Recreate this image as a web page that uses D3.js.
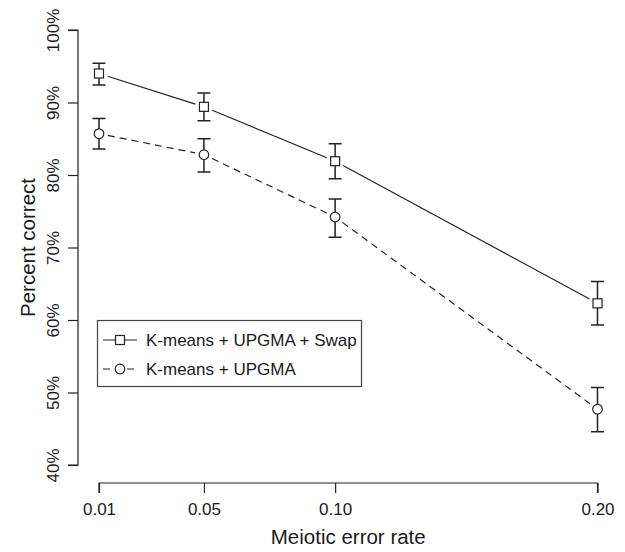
<!DOCTYPE html>
<html><head><meta charset="utf-8">
<script src="https://cdn.jsdelivr.net/npm/d3@7"></script>
<style>body{margin:0;background:#fff}text{font-family:"Liberation Sans",Arial,sans-serif;fill:#1a1a1a}</style>
</head><body><svg id="c" width="625" height="552"></svg>
<script>
const rates = [0.01, 0.05, 0.10, 0.20];
const rateLabels = ["0.01", "0.05", "0.10", "0.20"];
const yTicks = [40, 50, 60, 70, 80, 90, 100];
const swapMean = [94.0, 89.4, 81.9, 62.3];
const swapLow  = [92.4, 87.5, 79.5, 59.3];
const swapHigh = [95.4, 91.3, 84.3, 65.3];
const upMean = [85.7, 82.8, 74.2, 47.7];
const upLow  = [83.6, 80.4, 71.4, 44.6];
const upHigh = [87.8, 85.0, 76.7, 50.7];
const seriesNames = ["K-means + UPGMA + Swap", "K-means + UPGMA"];

const svg = d3.select("#c");
const x = d3.scaleLinear().domain([0.01, 0.20]).range([99, 597.5]);
const y = d3.scaleLinear().domain([40, 100]).range([465, 30]);
const ink = "#222";

// y axis
const ya = svg.append("g").attr("transform","translate(78,0)")
  .call(d3.axisLeft(y).tickValues(yTicks).tickSize(10).tickFormat(d=>d+"%"));
ya.select(".domain").attr("stroke",ink).attr("stroke-width",1.2).attr("d",`M-10,${y(40)}H0V${y(100)}H-10`);
ya.selectAll(".tick line").attr("stroke",ink).attr("stroke-width",1.2);
ya.selectAll(".tick text").attr("transform","rotate(-90)").attr("x",0).attr("y",-19)
  .attr("dy",0).attr("text-anchor","middle").style("font-size","17px");

// x axis
const xa = svg.append("g").attr("transform","translate(0,483)")
  .call(d3.axisBottom(x).tickValues(rates).tickSize(10).tickFormat((d,i)=>rateLabels[i]));
xa.select(".domain").attr("stroke",ink).attr("stroke-width",1.2).attr("d",`M${x(0.01)},10V0H${x(0.20)}V10`);
xa.selectAll(".tick line").attr("stroke",ink).attr("stroke-width",1.2);
xa.selectAll(".tick text").attr("y",32).attr("dy",0).style("font-size","17px");

svg.selectAll("g text").attr("fill","#1a1a1a").attr("font-family",'"Liberation Sans",Arial,sans-serif');

// titles
svg.append("text").attr("x",(x(0.01)+x(0.20))/2).attr("y",544).attr("text-anchor","middle")
  .style("font-size","20.5px").text("Meiotic error rate");
svg.append("text").attr("transform",`translate(35,${(y(40)+y(100))/2}) rotate(-90)`).attr("text-anchor","middle")
  .style("font-size","20.5px").text("Percent correct");

const series = [
  {mean: swapMean, lo: swapLow, hi: swapHigh, dash: null, shape: "square"},
  {mean: upMean, lo: upLow, hi: upHigh, dash: "7,5", shape: "circle"}
];
const gap = 9;
function drawMarker(g, cx, cy, shape){
  if(shape==="square") g.append("rect").attr("x",cx-4.5).attr("y",cy-4.5).attr("width",9).attr("height",9)
    .attr("fill","#fff").attr("stroke",ink).attr("stroke-width",1.2);
  else g.append("circle").attr("cx",cx).attr("cy",cy).attr("r",4.8)
    .attr("fill","#fff").attr("stroke",ink).attr("stroke-width",1.2);
}
series.forEach(s=>{
  const g = svg.append("g");
  for(let i=0;i<rates.length-1;i++){
    const x1=x(rates[i]), y1=y(s.mean[i]), x2=x(rates[i+1]), y2=y(s.mean[i+1]);
    const L=Math.hypot(x2-x1,y2-y1), ux=(x2-x1)/L, uy=(y2-y1)/L;
    g.append("line").attr("x1",x1+ux*gap).attr("y1",y1+uy*gap).attr("x2",x2-ux*gap).attr("y2",y2-uy*gap)
      .attr("stroke",ink).attr("stroke-width",1.2).attr("stroke-dasharray",s.dash);
  }
  rates.forEach((r,i)=>{
    const cx=x(r);
    g.append("path").attr("d",`M${cx},${y(s.lo[i])}V${y(s.hi[i])}M${cx-6.5},${y(s.lo[i])}H${cx+6.5}M${cx-6.5},${y(s.hi[i])}H${cx+6.5}`)
      .attr("stroke",ink).attr("stroke-width",1.5).attr("fill","none");
    drawMarker(g,cx,y(s.mean[i]),s.shape);
  });
});

// legend
const lg = svg.append("g");
lg.append("rect").attr("x",97.5).attr("y",320.5).attr("width",264).attr("height",66)
  .attr("fill","#fff").attr("stroke","#444").attr("stroke-width",1.2);
series.forEach((s,i)=>{
  const ly = 340 + i*29;
  lg.append("line").attr("x1",103).attr("x2",137).attr("y1",ly).attr("y2",ly)
    .attr("stroke",ink).attr("stroke-width",1.2).attr("stroke-dasharray",s.dash);
  drawMarker(lg,120,ly,s.shape);
  lg.append("text").attr("x",146).attr("y",ly+6).style("font-size","17px").text(seriesNames[i]);
});
</script></body></html>
